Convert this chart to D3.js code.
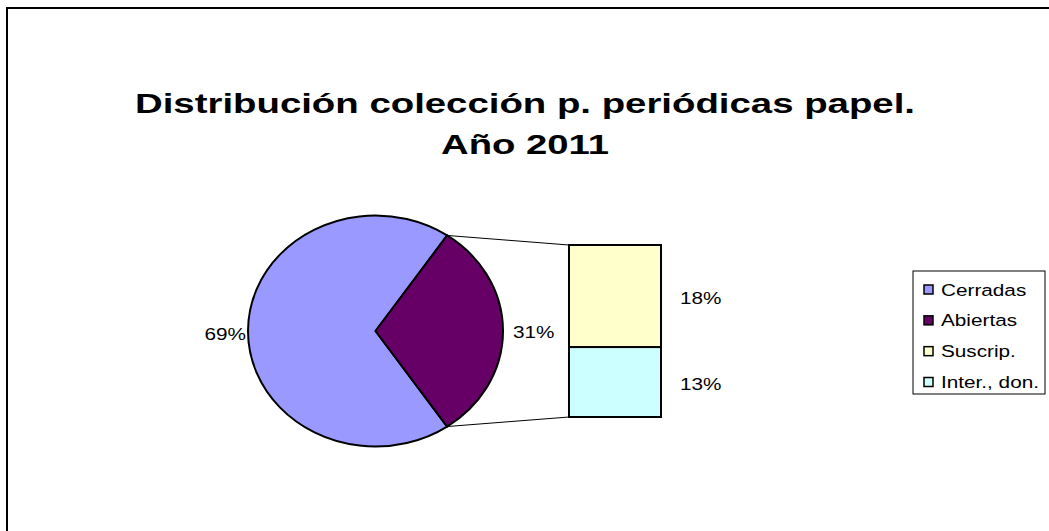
<!DOCTYPE html>
<html>
<head>
<meta charset="utf-8">
<script src="https://cdn.jsdelivr.net/npm/d3@7"></script>
<style>
  html, body { margin: 0; padding: 0; background: #fff; }
  svg { display: block; }
  text { font-family: "Liberation Sans", Arial, sans-serif; fill: #000; }
</style>
</head>
<body>
<svg id="chart" width="1049" height="531"></svg>
<script>
// ---- data ----
const titleLines = ["Distribución colección p. periódicas papel.", "Año 2011"];
const mainCategories = ["Cerradas", "Abiertas"];
const mainValues = [69, 31];
const subCategories = ["Suscrip.", "Inter., don."];
const subValues = [18.4, 12.6];
const legendLabels = ["Cerradas", "Abiertas", "Suscrip.", "Inter., don."];
const colors = ["#9999FF", "#660066", "#FFFFCC", "#CCFFFF"];

// ---- layout ----
const W = 1049, H = 531;
const svg = d3.select("#chart");
const fmt = v => Math.round(v) + "%";
const SX = 1.22; // horizontal stretch of text as in the original

function stretchedText(g, x, y, str, opts) {
  const t = g.append("text")
    .attr("transform", `translate(${x},${y}) scale(${opts.sx || SX},1)`)
    .attr("font-size", opts.size)
    .attr("font-weight", opts.weight || "normal")
    .attr("text-anchor", opts.anchor || "start")
    .text(str);
  return t;
}

// frame
svg.append("rect").attr("x", 7).attr("y", 8).attr("width", W + 10).attr("height", H + 10)
  .attr("fill", "none").attr("stroke", "#000").attr("stroke-width", 2);

// title
const titleY = [113, 154];
const titleW = [780, 168];
titleLines.forEach((s, i) => {
  svg.append("text")
    .attr("x", 525).attr("y", titleY[i])
    .attr("text-anchor", "middle")
    .attr("font-size", 28).attr("font-weight", "bold")
    .attr("textLength", titleW[i]).attr("lengthAdjust", "spacingAndGlyphs")
    .text(s);
});

// pie (elliptical)
const cx = 375.5, cy = 331, rx = 127.5, ry = 115.5;
const total = d3.sum(mainValues);
const secondFrac = mainValues[1] / total;
// second slice centred at 3 o'clock
const start = Math.PI / 2 + 2 * Math.PI - (1 - secondFrac) * 2 * Math.PI - secondFrac * Math.PI;
const pie = d3.pie().sort(null).value(d => d).startAngle(start).endAngle(start + 2 * Math.PI);
const arcs = pie(mainValues);
const arc = d3.arc().innerRadius(0).outerRadius(ry);

const pg = svg.append("g").attr("transform", `translate(${cx},${cy}) scale(${rx / ry},1)`);
pg.selectAll("path").data(arcs).join("path")
  .attr("d", arc)
  .attr("fill", (d, i) => colors[i])
  .attr("stroke", "#000").attr("stroke-width", 2)
  .attr("stroke-linejoin", "round")
  .attr("vector-effect", "non-scaling-stroke");

// bar of pie
const barX0 = 569, barX1 = 661, barTop = 245, barBot = 417;
const subTotal = d3.sum(subValues);
const yb = d3.scaleLinear().domain([0, subTotal]).range([barTop, barBot]);
let cum = 0;
const subData = subValues.map((v, i) => { const d = { v, i, y0: cum, y1: cum + v }; cum += v; return d; });

// connector lines from slice edge to bar corners
const a2 = arcs[1];
const edgePt = ang => [cx + rx * Math.sin(ang), cy - ry * Math.cos(ang)];
const pTop = edgePt(a2.startAngle), pBot = edgePt(a2.endAngle);
const linePts = [[pTop, [barX0, yb(0)]], [pBot, [barX0, yb(subTotal)]]];
svg.selectAll("line.conn").data(linePts).join("line")
  .attr("class", "conn")
  .attr("x1", d => d[0][0]).attr("y1", d => d[0][1])
  .attr("x2", d => d[1][0]).attr("y2", d => d[1][1])
  .attr("stroke", "#000").attr("stroke-width", 1);

svg.selectAll("rect.sub").data(subData).join("rect")
  .attr("class", "sub")
  .attr("x", barX0).attr("width", barX1 - barX0)
  .attr("y", d => yb(d.y0)).attr("height", d => yb(d.y1) - yb(d.y0))
  .attr("fill", d => colors[2 + d.i])
  .attr("stroke", "#000").attr("stroke-width", 2);

// data labels
const lg = svg.append("g");
stretchedText(lg, cx - rx - 2, cy + 9, fmt(mainValues[0] / total * 100), { size: 17, anchor: "end" });
stretchedText(lg, cx + rx + 10, cy + 7, fmt(mainValues[1] / total * 100), { size: 17 });
subData.forEach(d => {
  const ym = (yb(d.y0) + yb(d.y1)) / 2;
  stretchedText(lg, barX1 + 19, ym + 8, fmt(d.v / total * 100), { size: 17 });
});

// legend
const legX = 913, legY = 271, legW = 132, legH = 123;
const leg = svg.append("g");
leg.append("rect").attr("x", legX).attr("y", legY).attr("width", legW).attr("height", legH)
  .attr("fill", "#fff").attr("stroke", "#000").attr("stroke-width", 1);
const rowY = d3.scalePoint().domain(legendLabels).range([289.5, 382]);
legendLabels.forEach((s, i) => {
  const y = rowY(s);
  leg.append("rect").attr("x", legX + 11).attr("y", y - 4.5).attr("width", 9).attr("height", 9)
    .attr("fill", colors[i]).attr("stroke", "#000").attr("stroke-width", 1.5);
  stretchedText(leg, legX + 28, y + 6, s, { size: 17 });
});
</script>
</body>
</html>
